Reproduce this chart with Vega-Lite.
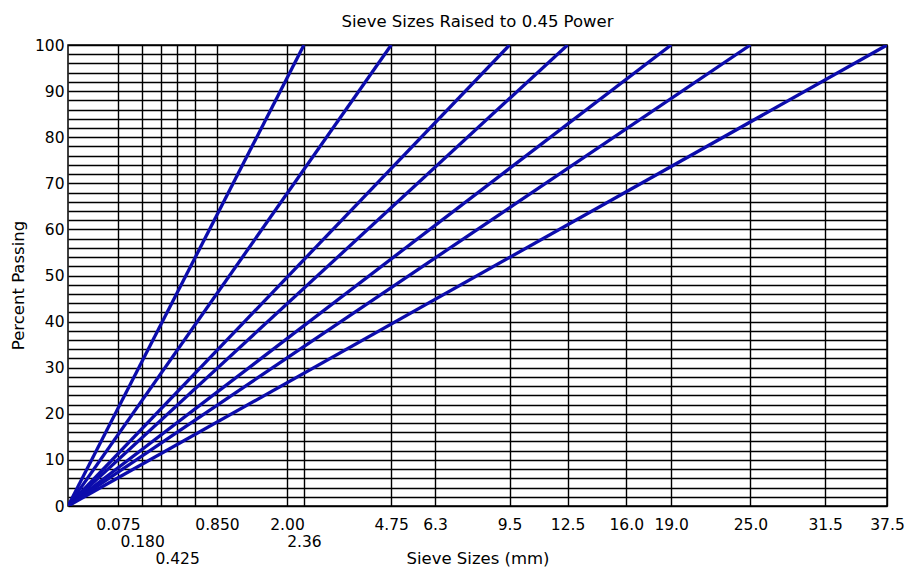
{
  "$schema": "https://vega.github.io/schema/vega-lite/v6.json",
  "autosize": {"type": "none"},
  "padding": {"left": 68, "top": 45, "right": 23, "bottom": 63},
  "width": 819,
  "height": 461,
  "background": "#ffffff",
  "title": {
    "text": "Sieve Sizes Raised to 0.45 Power",
    "font": "DejaVu Sans",
    "fontSize": 16.5,
    "fontWeight": "normal",
    "color": "#000000",
    "anchor": "middle",
    "frame": "group",
    "baseline": "alphabetic",
    "offset": 19,
    "dy": 24
  },
  "config": {
    "view": {"stroke": "#000000", "strokeWidth": 1.5},
    "axis": {
      "labelFont": "DejaVu Sans",
      "titleFont": "DejaVu Sans",
      "labelColor": "#000000",
      "titleColor": "#000000",
      "titleFontWeight": "normal",
      "gridColor": "#000000",
      "gridOpacity": 1,
      "gridWidth": 1.4,
      "domain": false,
      "ticks": false
    }
  },
  "data": {
    "values": [
      {"max": "2.36", "size": 0, "pct": 0}, {"max": "2.36", "size": 2.36, "pct": 100},
      {"max": "4.75", "size": 0, "pct": 0}, {"max": "4.75", "size": 4.75, "pct": 100},
      {"max": "9.5", "size": 0, "pct": 0}, {"max": "9.5", "size": 9.5, "pct": 100},
      {"max": "12.5", "size": 0, "pct": 0}, {"max": "12.5", "size": 12.5, "pct": 100},
      {"max": "19.0", "size": 0, "pct": 0}, {"max": "19.0", "size": 19.0, "pct": 100},
      {"max": "25.0", "size": 0, "pct": 0}, {"max": "25.0", "size": 25.0, "pct": 100},
      {"max": "37.5", "size": 0, "pct": 0}, {"max": "37.5", "size": 37.5, "pct": 100}
    ]
  },
  "mark": {"type": "line", "color": "#0c0cac", "strokeWidth": 3.3, "clip": true},
  "encoding": {
    "detail": {"field": "max", "type": "nominal"},
    "x": {
      "field": "size",
      "type": "quantitative",
      "scale": {"type": "pow", "exponent": 0.45, "domain": [0, 37.5], "nice": false, "zero": true},
      "axis": {
        "title": "Sieve Sizes (mm)",
        "titleFontSize": 16.5,
        "titleBaseline": "top",
        "titleY": 44,
        "values": [0.075, 0.18, 0.3, 0.425, 0.6, 0.85, 2, 2.36, 4.75, 6.3, 9.5, 12.5, 16, 19, 25, 31.5, 37.5],
        "labelExpr": "datum.value == 0.18 ? '0.180' : datum.value == 0.425 ? ['\u00a0', '0.425'] : datum.value == 2.36 ? '2.36' : (datum.value == 0.3 || datum.value == 0.6) ? '' : datum.value < 1 ? format(datum.value, '.3f') : datum.value < 4 ? format(datum.value, '.2f') : datum.value == 4.75 ? '4.75' : format(datum.value, '.1f')",
        "labelFontSize": 15.5,
        "labelLineHeight": 17,
        "labelPadding": {"condition": {"test": "datum.value == 0.18 || datum.value == 2.36 || datum.value == 0.425", "value": 28}, "value": 11},
        "labelBaseline": "top",
        "labelOverlap": false,
        "labelFlush": false,
        "grid": true
      }
    },
    "y": {
      "field": "pct",
      "type": "quantitative",
      "scale": {"domain": [0, 100], "nice": false},
      "axis": {
        "title": "Percent Passing",
        "titleFontSize": 16.5,
        "titlePadding": 8,
        "titleY": 240,
        "titleAlign": "center",
        "values": [0, 2, 4, 6, 8, 10, 12, 14, 16, 18, 20, 22, 24, 26, 28, 30, 32, 34, 36, 38, 40, 42, 44, 46, 48, 50, 52, 54, 56, 58, 60, 62, 64, 66, 68, 70, 72, 74, 76, 78, 80, 82, 84, 86, 88, 90, 92, 94, 96, 98, 100],
        "labelExpr": "datum.value % 10 == 0 ? datum.label : ''",
        "labelFontSize": 15.5,
        "labelPadding": 4,
        "labelOverlap": false,
        "labelFlush": false,
        "grid": true
      }
    }
  }
}
